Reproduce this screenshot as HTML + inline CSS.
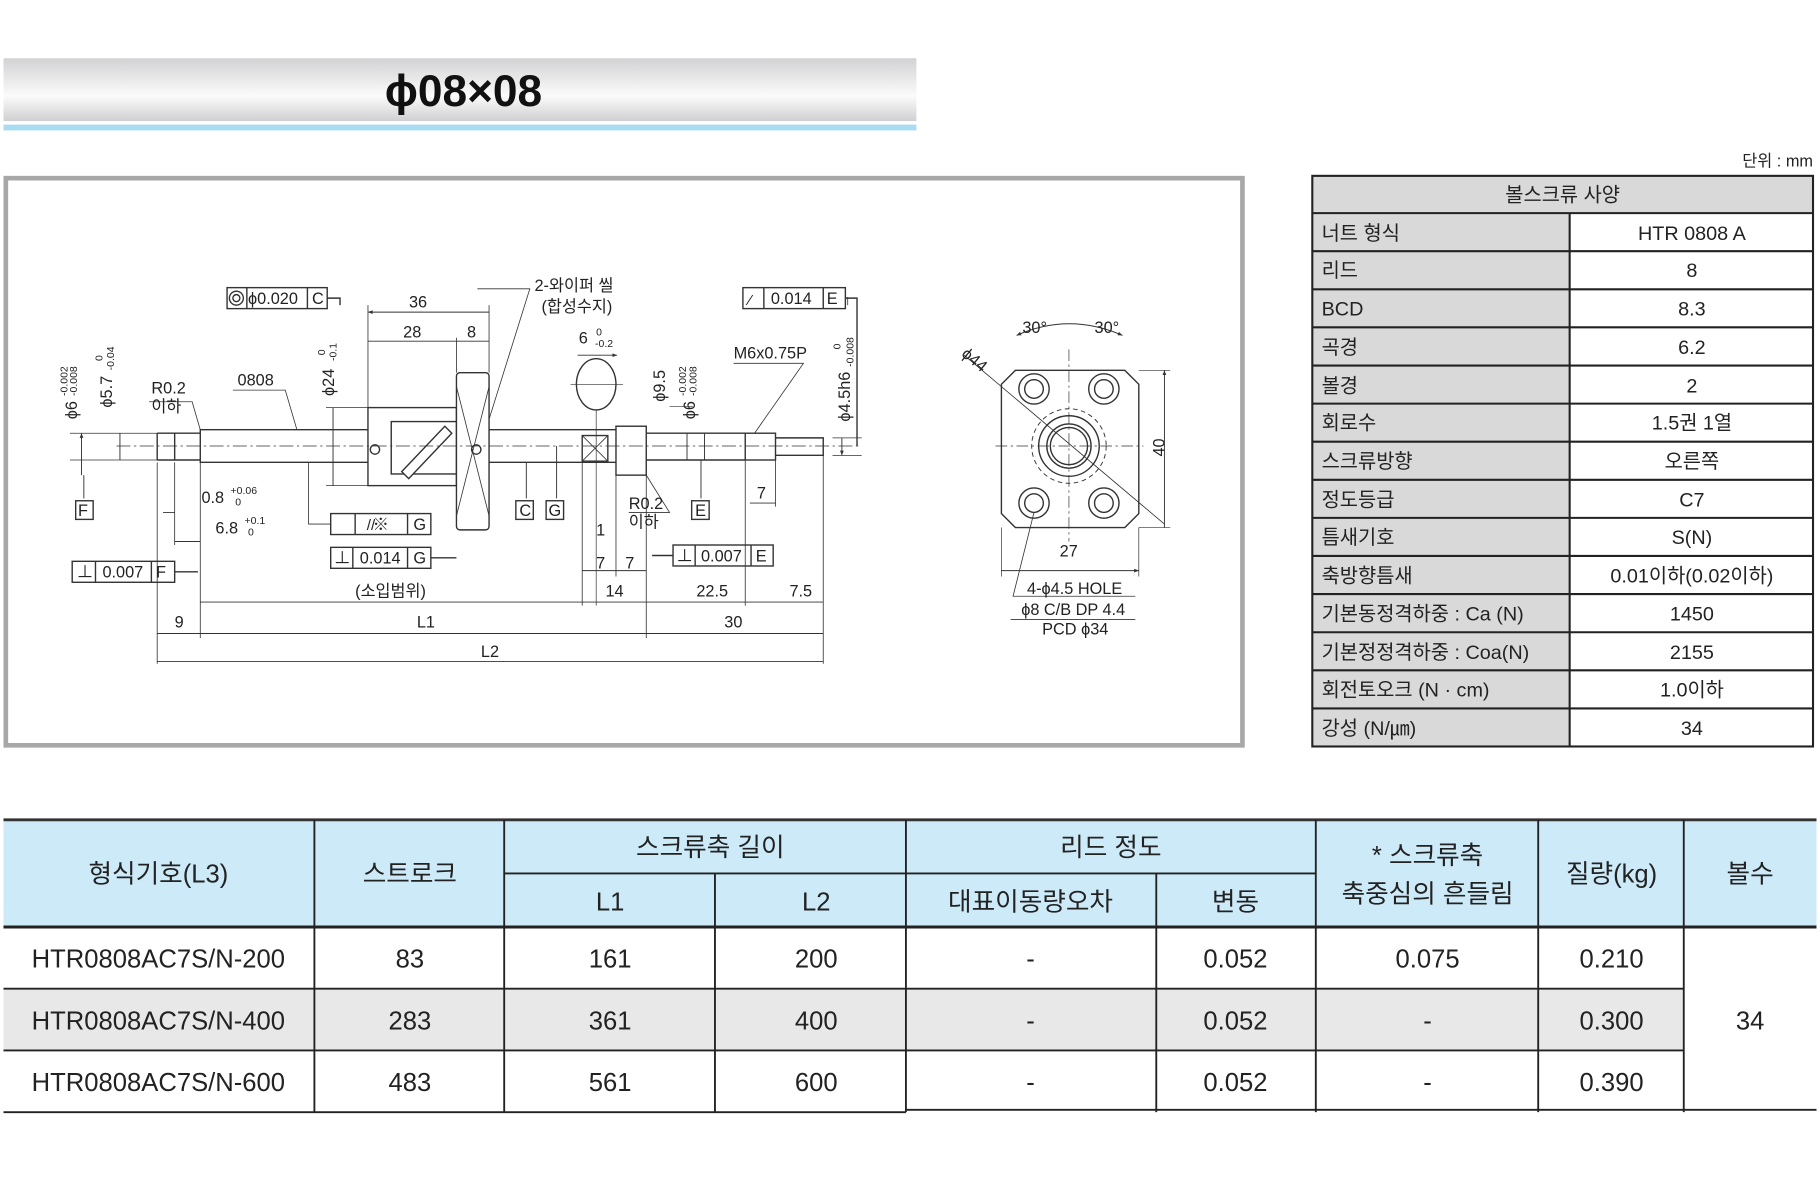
<!DOCTYPE html>
<html><head><meta charset="utf-8"><style>
html,body{margin:0;padding:0;background:#fff;}
svg{display:block;}
text{font-family:"Liberation Sans","Noto Sans CJK KR",sans-serif;fill:#222;}
</style></head><body>
<svg width="1820" height="1196" viewBox="0 0 1563 1027" preserveAspectRatio="none" xmlns="http://www.w3.org/2000/svg">
<defs>
<linearGradient id="tg" x1="0" y1="0" x2="0" y2="1">
<stop offset="0" stop-color="#d2d2d4"/><stop offset="0.6" stop-color="#fbfbfb"/><stop offset="1" stop-color="#d0d0d2"/>
</linearGradient>
<marker id="a" viewBox="0 0 10 10" refX="10" refY="5" markerWidth="7" markerHeight="5" orient="auto-start-reverse"><path d="M0,1 L10,5 L0,9z" fill="#333"/></marker>
</defs>
<!-- title -->
<rect x="3" y="50" width="784" height="54" fill="url(#tg)"/>
<rect x="3" y="107" width="784" height="5" fill="#a9dcf2"/>
<text x="398" y="91" font-size="38" font-weight="bold" text-anchor="middle" style="fill:#111">ϕ08×08</text>
<text x="1557" y="143" font-size="14" text-anchor="end">단위 : mm</text>

<!-- drawing frame -->
<rect x="5" y="153" width="1062" height="487" fill="#fff" stroke="#a8a8a8" stroke-width="4"/>

<g stroke="#333" stroke-width="1.2" fill="none">
<!-- shaft -->
<path d="M135,372 L172,372 L172,369 L316,369 M135,395 L172,395 L172,397 L316,397 M135,372 L135,395 M150,372 L150,395 M172,369 L172,397"/>
<path d="M420,369 L529,369 M420,397 L529,397"/>
<rect x="316" y="350" width="76" height="67" fill="#fff"/>
<rect x="336" y="362" width="56" height="45" fill="#fff"/>
<rect x="392" y="320" width="28" height="135" rx="3" fill="#fff"/>
<path d="M392,332 L420,443 M420,332 L392,443" stroke-width="0.7"/>
<circle cx="322" cy="386" r="4"/><circle cx="409" cy="386" r="4"/>
<path d="M345,405 L382,366 L388,372 L351,411z" fill="#fff"/>
<rect x="500" y="374" width="22" height="22"/><path d="M500,374 L522,396 M522,374 L500,396" stroke-width="0.7"/>
<rect x="529" y="366" width="26" height="42" fill="#fff"/>
<path d="M555,372 L640,372 M555,395 L640,395"/>
<rect x="640" y="372" width="26" height="23"/>
<path d="M666,376 L707,376 L707,391 L666,391"/>
<path d="M100,383 L740,383" stroke-width="0.6" stroke-dasharray="12,3,2,3"/>
<ellipse cx="512" cy="330" rx="17" ry="22"/>
<path d="M490,330 L535,330 M512,352 L512,520" stroke-width="0.6"/>
<!-- extension lines -->
<path d="M135,397 L135,570 M172,397 L172,548 M150,397 L150,468 M555,408 L555,548 M707,391 L707,570 M316,350 L316,262 M420,320 L420,262 M392,320 L392,290 M500,396 L500,520 M529,408 L529,495 M640,395 L640,520 M666,391 L666,435" stroke-width="0.7"/>
<!-- dimension lines -->
<path d="M316,268 L420,268 M316,293 L392,293 M392,293 L420,293 M135,544 L172,544 M172,544 L555,544 M555,544 L707,544 M135,568 L707,568 M172,517 L500,517 M500,517 L555,517 M555,517 L666,517 M666,517 L707,517 M500,490 L529,490 M529,490 L555,490 M644,432 L666,432 M140,440 L150,440 M150,465 L172,465 M496,305 L530,305" marker-start="url(#a)" marker-end="url(#a)" stroke-width="0.8"/>
<path d="M70,372 L70,408 M103,372 L103,395 M286,350 L286,417 M590,372 L590,395 M605,372 L605,395 M723,376 L723,391" marker-start="url(#a)" marker-end="url(#a)" stroke-width="0.8"/>
<path d="M280,350 L316,350 M280,417 L316,417 M60,372 L135,372 M60,395 L135,395 M715,376 L740,376 M715,391 L740,391 M595,349 L575,349" stroke-width="0.6"/>
<!-- leaders -->
<path d="M128,345 L165,345 L172,369 M200,335 L245,335 L255,369 M292,256 L292,262 M410,248 L455,248 L420,360 M630,312 L690,312 L648,372 M728,255 L728,262 M540,440 L575,440 L555,408 M265,397 L265,450 L284,450" stroke-width="0.7"/>
<!-- datum flags -->
<path d="M452,397 L452,428 M478,383 L478,428 M602,395 L602,428 M72,408 L72,428" stroke-width="0.8"/>
<!-- feature control frames -->
<rect x="195" y="247" width="86" height="18"/><path d="M212,247 L212,265 M264,247 L264,265"/>
<circle cx="203" cy="256" r="6"/><circle cx="203" cy="256" r="3"/>
<path d="M281,256 L292,256 L292,262"/>
<rect x="638" y="247" width="88" height="18"/><path d="M656,247 L656,265 M707,247 L707,265 M726,256 L736,256 L736,383"/>
<rect x="284" y="441" width="86" height="18"/><path d="M305,441 L305,459 M350,441 L350,459"/>
<rect x="284" y="470" width="86" height="18"/><path d="M303,470 L303,488 M350,470 L350,488 M370,479 L392,479"/>
<rect x="578" y="468" width="86" height="18"/><path d="M597,468 L597,486 M645,468 L645,486 M578,477 L560,477"/>
<rect x="62" y="482" width="88" height="18"/><path d="M82,482 L82,500 M130,482 L130,500 M150,491 L170,491"/>
<rect x="65" y="430" width="15" height="16"/><rect x="443" y="430" width="15" height="16"/><rect x="469" y="430" width="15" height="16"/><rect x="594" y="430" width="15" height="16"/>

<!-- end view -->
<path d="M872,318 L966,318 L978,330 L978,441 L966,453 L872,453 L860,441 L860,330z" fill="#fff"/>
<circle cx="918" cy="383" r="32" stroke-dasharray="4,3" stroke-width="0.8"/>
<circle cx="918" cy="383" r="26"/><circle cx="918" cy="383" r="19"/><circle cx="918" cy="383" r="16"/>
<circle cx="888" cy="334" r="13"/><circle cx="888" cy="334" r="8"/>
<circle cx="948" cy="334" r="13"/><circle cx="948" cy="334" r="8"/>
<circle cx="888" cy="432" r="13"/><circle cx="888" cy="432" r="8"/>
<circle cx="948" cy="432" r="13"/><circle cx="948" cy="432" r="8"/>
<path d="M855,383 L982,383 M918,300 L918,465" stroke-width="0.6" stroke-dasharray="10,3,2,3"/>
<path d="M828,305 L1000,450" stroke-width="0.7"/>
<path d="M978,318 L1005,318 M978,453 L1005,453 M860,453 L860,495 M978,453 L978,495" stroke-width="0.6"/>
<path d="M1000,318 L1000,453 M860,490 L978,490" marker-start="url(#a)" marker-end="url(#a)" stroke-width="0.8"/>
<path d="M873,288 Q918,268 964,288" marker-start="url(#a)" marker-end="url(#a)" stroke-width="0.8"/>
<path d="M888,440 L870,512 L975,512 M868,532 L975,532" stroke-width="0.7"/>
</g>

<g font-size="14">
<text x="213" y="261">ϕ0.020</text><text x="268" y="261">C</text>
<text x="662" y="261">0.014</text><text x="710" y="261">E</text>
<text x="643" y="262" font-size="13">⁄</text>
<text x="315" y="455" font-size="13">// </text><text x="320" y="455">※</text><text x="355" y="455">G</text>
<text x="287" y="484">⊥</text><text x="309" y="484">0.014</text><text x="355" y="484">G</text>
<text x="581" y="482">⊥</text><text x="602" y="482">0.007</text><text x="649" y="482">E</text>
<text x="66" y="496">⊥</text><text x="88" y="496">0.007</text><text x="134" y="496">F</text>
<text x="67" y="443">F</text><text x="446" y="443">C</text><text x="471" y="443">G</text><text x="597" y="443">E</text>
<text x="359" y="264" text-anchor="middle">36</text><text x="354" y="290" text-anchor="middle">28</text><text x="405" y="290" text-anchor="middle">8</text>
<text x="459" y="250">2-와이퍼 씰</text><text x="465" y="268">(합성수지)</text>
<text x="497" y="295">6</text><text x="512" y="288" font-size="9">0</text><text x="511" y="298" font-size="9">-0.2</text>
<text x="630" y="308">M6x0.75P</text>
<text x="204" y="331">0808</text>
<text x="130" y="338">R0.2</text><text x="130" y="354">이하</text>
<text x="540" y="437">R0.2</text><text x="540" y="453">이하</text>
<text x="173" y="432">0.8</text><text x="198" y="424" font-size="9">+0.06</text><text x="202" y="434" font-size="9">0</text>
<text x="185" y="458">6.8</text><text x="210" y="450" font-size="9">+0.1</text><text x="213" y="460" font-size="9">0</text>
<text x="305" y="512">(소입범위)</text>
<text x="512" y="460">1</text><text x="512" y="488">7</text><text x="537" y="488">7</text>
<text x="520" y="512">14</text><text x="598" y="512">22.5</text><text x="678" y="512">7.5</text>
<text x="650" y="428">7</text>
<text x="150" y="539">9</text><text x="358" y="539">L1</text><text x="622" y="539">30</text><text x="413" y="564">L2</text>
<text x="878" y="286">30°</text><text x="940" y="286">30°</text>
<text x="910" y="478">27</text>
<text x="882" y="510">4-ϕ4.5 HOLE</text><text x="877" y="528">ϕ8 C/B DP 4.4</text><text x="895" y="545">PCD ϕ34</text>
<text transform="translate(825,305) rotate(40)">ϕ44</text>
<text transform="translate(1000,392) rotate(-90)">40</text>
<text transform="translate(66,360) rotate(-90)">ϕ6</text><text transform="translate(58,340) rotate(-90)" font-size="9">-0.002</text><text transform="translate(66,340) rotate(-90)" font-size="9">-0.008</text>
<text transform="translate(96,350) rotate(-90)">ϕ5.7</text><text transform="translate(88,310) rotate(-90)" font-size="9">0</text><text transform="translate(98,318) rotate(-90)" font-size="9">-0.04</text>
<text transform="translate(287,340) rotate(-90)">ϕ24</text><text transform="translate(279,305) rotate(-90)" font-size="9">0</text><text transform="translate(289,310) rotate(-90)" font-size="9">-0.1</text>
<text transform="translate(571,345) rotate(-90)">ϕ9.5</text>
<text transform="translate(597,360) rotate(-90)">ϕ6</text><text transform="translate(589,340) rotate(-90)" font-size="9">-0.002</text><text transform="translate(598,340) rotate(-90)" font-size="9">-0.008</text>
<text transform="translate(730,362) rotate(-90)">ϕ4.5h6</text><text transform="translate(722,300) rotate(-90)" font-size="9">0</text><text transform="translate(733,315) rotate(-90)" font-size="9">-0.008</text>
</g>

<!-- spec table -->
<g>
<rect x="1127" y="151" width="430" height="32" fill="#d9d9d9"/>
<rect x="1127" y="183" width="221" height="458" fill="#d9d9d9"/>
<rect x="1348" y="183" width="209" height="458" fill="#fff"/>
<g stroke="#222" stroke-width="1.8" fill="none">
<rect x="1127" y="151" width="430" height="490"/>
<path d="M1348,183 L1348,641"/>
<path d="M1127,183H1557M1127,215.7H1557M1127,248.4H1557M1127,281.1H1557M1127,313.9H1557M1127,346.6H1557M1127,379.3H1557M1127,412H1557M1127,444.7H1557M1127,477.4H1557M1127,510.1H1557M1127,542.9H1557M1127,575.6H1557M1127,608.3H1557"/>
</g>
<g font-size="17">
<text x="1342" y="173" text-anchor="middle">볼스크류 사양</text>
<text x="1135" y="206">너트 형식</text><text x="1453" y="206" text-anchor="middle">HTR 0808 A</text>
<text x="1135" y="238">리드</text><text x="1453" y="238" text-anchor="middle">8</text>
<text x="1135" y="271">BCD</text><text x="1453" y="271" text-anchor="middle">8.3</text>
<text x="1135" y="304">곡경</text><text x="1453" y="304" text-anchor="middle">6.2</text>
<text x="1135" y="337">볼경</text><text x="1453" y="337" text-anchor="middle">2</text>
<text x="1135" y="369">회로수</text><text x="1453" y="369" text-anchor="middle">1.5권 1열</text>
<text x="1135" y="402">스크류방향</text><text x="1453" y="402" text-anchor="middle">오른쪽</text>
<text x="1135" y="435">정도등급</text><text x="1453" y="435" text-anchor="middle">C7</text>
<text x="1135" y="467">틈새기호</text><text x="1453" y="467" text-anchor="middle">S(N)</text>
<text x="1135" y="500">축방향틈새</text><text x="1453" y="500" text-anchor="middle">0.01이하(0.02이하)</text>
<text x="1135" y="533">기본동정격하중 : Ca (N)</text><text x="1453" y="533" text-anchor="middle">1450</text>
<text x="1135" y="566">기본정정격하중 : Coa(N)</text><text x="1453" y="566" text-anchor="middle">2155</text>
<text x="1135" y="598">회전토오크 (N · cm)</text><text x="1453" y="598" text-anchor="middle">1.0이하</text>
<text x="1135" y="631">강성 (N/㎛)</text><text x="1453" y="631" text-anchor="middle">34</text>
</g>
</g>

<!-- bottom table -->
<rect x="3" y="704" width="1557" height="92" fill="#cdeaf8"/>
<rect x="3" y="849" width="1443" height="53" fill="#e8e8e8"/>
<g stroke="#222" stroke-width="1.6" fill="none">
<path d="M3,704 H1560" stroke-width="2.5" stroke="#333"/>
<path d="M3,796 H1560" stroke-width="2.5"/>
<path d="M433,750 H1130 M3,849 H1446 M3,902 H1446 M3,955 H778 M778,953 H1560" />
<path d="M270,704V955 M433,704V955 M614,750V955 M778,704V955 M993,750V955 M1130,704V955 M1321,704V955 M1446,704V955"/>
</g>
<g font-size="22" text-anchor="middle">
<text x="136" y="758">형식기호(L3)</text>
<text x="352" y="758">스트로크</text>
<text x="610" y="735">스크류축 길이</text>
<text x="524" y="782">L1</text><text x="701" y="782">L2</text>
<text x="954" y="735">리드 정도</text>
<text x="885" y="782">대표이동량오차</text><text x="1061" y="782">변동</text>
<text x="1226" y="742">* 스크류축</text><text x="1226" y="775">축중심의 흔들림</text>
<text x="1384" y="758">질량(kg)</text><text x="1503" y="758">볼수</text>
<text x="136" y="831">HTR0808AC7S/N-200</text><text x="352" y="831">83</text><text x="524" y="831">161</text><text x="701" y="831">200</text><text x="885" y="831">-</text><text x="1061" y="831">0.052</text><text x="1226" y="831">0.075</text><text x="1384" y="831">0.210</text>
<text x="136" y="884">HTR0808AC7S/N-400</text><text x="352" y="884">283</text><text x="524" y="884">361</text><text x="701" y="884">400</text><text x="885" y="884">-</text><text x="1061" y="884">0.052</text><text x="1226" y="884">-</text><text x="1384" y="884">0.300</text>
<text x="136" y="937">HTR0808AC7S/N-600</text><text x="352" y="937">483</text><text x="524" y="937">561</text><text x="701" y="937">600</text><text x="885" y="937">-</text><text x="1061" y="937">0.052</text><text x="1226" y="937">-</text><text x="1384" y="937">0.390</text>
<text x="1503" y="884">34</text>
</g>
</svg>
</body></html>
